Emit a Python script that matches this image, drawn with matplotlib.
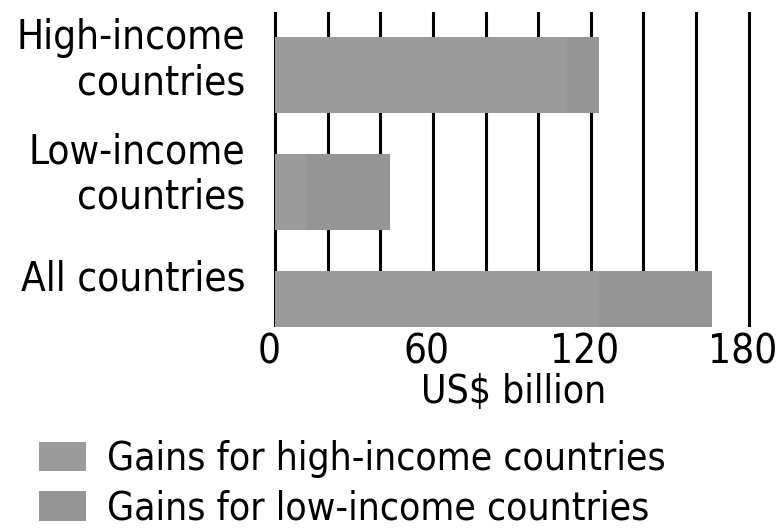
import matplotlib
matplotlib.use("Agg")
import matplotlib.pyplot as plt
import matplotlib.transforms as mtransforms
import numpy as np

categories = ["High-income\ncountries", "Low-income\ncountries", "All countries"]
gains_high = [111, 12, 123]    # gains for high-income countries, US$ billion
gains_low = [12, 31.5, 43]     # gains for low-income countries, US$ billion
xticks = [0, 60, 120, 180]

plt.rcParams['font.family'] = ['DejaVu Sans']
plt.rcParams['font.stretch'] = 'condensed'
fs = 29

fig = plt.figure(figsize=(7.84, 5.32), dpi=100)
ax = fig.add_axes([273 / 784, 205 / 532, 481 / 784, 315 / 532])

y = np.arange(len(categories))
b1 = ax.barh(y, gains_high, height=0.65, color='#9b9b9b', zorder=2,
             label='Gains for high-income countries')
b2 = ax.barh(y, gains_low, left=gains_high, height=0.65, color='#959595', zorder=2,
             label='Gains for low-income countries')

# vertical black grid every 20
for v in range(0, 181, 20):
    ax.axvline(v, color='black', lw=2.2, zorder=1)

ax.set_xlim(-0.8, 182)
ax.set_ylim(2.154, -0.538)
for s in ax.spines.values():
    s.set_visible(False)

ax.set_xticks(xticks)
ax.set_xticklabels([str(t) for t in xticks], fontsize=fs)
ax.tick_params(axis='x', length=0, pad=4)
for lab in ax.get_xticklabels():
    lab.set_transform(lab.get_transform() + mtransforms.ScaledTranslation(-0.06, 0, fig.dpi_scale_trans))

ax.set_yticks(y)
ax.set_yticklabels(categories, fontsize=fs, linespacing=1.15)
ax.tick_params(axis='y', length=0, pad=20)
shift = [0.21, 0.24, 0.34]
for lab, d in zip(ax.get_yticklabels(), shift):
    lab.set_transform(lab.get_transform() + mtransforms.ScaledTranslation(0, d, fig.dpi_scale_trans))

ax.set_xlabel('US$ billion', fontsize=28, labelpad=0)

fig.legend(handles=[b1, b2], loc='upper left', bbox_to_anchor=(39 / 784, 1 - 440 / 532),
           frameon=False, fontsize=28, handlelength=1.2, handleheight=0.8,
           handletextpad=0.55, labelspacing=0.3, borderpad=0, borderaxespad=0)

fig.savefig('out.png', dpi=100)
